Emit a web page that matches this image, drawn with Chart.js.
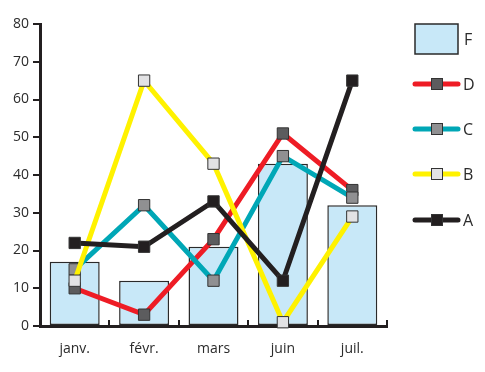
<!DOCTYPE html>
<html>
<head>
<meta charset="utf-8">
<script src="https://cdn.jsdelivr.net/npm/chart.js@4/dist/chart.umd.min.js"></script>
<style>
  html, body { margin: 0; padding: 0; background: #fff; }
  #wrap { width: 485px; height: 372px; }
</style>
</head>
<body>
<div id="wrap"><canvas id="c" width="485" height="372"></canvas></div>
<script>
// Months on the category axis
const months = ['janv.', 'févr.', 'mars', 'juin', 'juil.'];

// Series values
const seriesF = [17, 12, 21, 43, 32];
const seriesD = [10, 3, 23, 51, 36];
const seriesC = [15, 32, 12, 45, 34];
const seriesB = [12, 65, 43, 1, 29];
const seriesA = [22, 21, 33, 12, 65];

// Value axis
const yMin = 0;
const yMax = 80;
const yStep = 10;

const textColor = '#2b2b2b';
const axisColor = '#231f20';

function lineSeries(label, data, color, markerFill, order) {
  return {
    type: 'line',
    label: label,
    data: data,
    borderColor: color,
    borderWidth: 5,
    tension: 0,
    fill: false,
    pointStyle: 'rect',
    pointRadius: 8,
    pointHoverRadius: 8,
    pointBackgroundColor: markerFill,
    pointBorderColor: '#333333',
    pointBorderWidth: 1,
    clip: false,
    order: order
  };
}

const datasets = [
  {
    type: 'bar',
    label: 'F',
    data: seriesF,
    backgroundColor: '#c8e8f8',
    borderColor: '#2a2a2a',
    borderWidth: 1.5,
    borderSkipped: false,
    categoryPercentage: 1,
    barPercentage: 0.72,
    order: 5
  },
  lineSeries('D', seriesD, '#ee1c25', '#5c5c5e', 4),
  lineSeries('C', seriesC, '#00a7b6', '#909092', 3),
  lineSeries('B', seriesB, '#fff200', '#e2e2e4', 2),
  lineSeries('A', seriesA, '#231f20', '#231f20', 1)
];

// Small upward ticks on the category axis, at the boundaries between months
const categoryTicks = {
  id: 'categoryTicks',
  afterDatasetsDraw(chart) {
    const ctx = chart.ctx;
    const area = chart.chartArea;
    const n = months.length;
    const w = (area.right - area.left) / n;
    ctx.save();
    ctx.strokeStyle = axisColor;
    ctx.lineWidth = 2;
    for (let i = 1; i <= n; i++) {
      const px = Math.round(area.left + w * i);
      ctx.beginPath();
      ctx.moveTo(px, area.bottom);
      ctx.lineTo(px, area.bottom - 6);
      ctx.stroke();
    }
    ctx.restore();
  }
};

// Legend column on the right, listed F, D, C, B, A
const sideLegend = {
  id: 'sideLegend',
  afterDraw(chart) {
    const ctx = chart.ctx;
    const ds = chart.data.datasets;
    ctx.save();
    ctx.font = '16px "Open Sans", "Noto Sans", sans-serif';
    ctx.textBaseline = 'middle';
    ctx.textAlign = 'left';

    // bar entry
    const bar = ds[0];
    ctx.fillStyle = bar.backgroundColor;
    ctx.fillRect(415, 24, 43, 30);
    ctx.strokeStyle = bar.borderColor;
    ctx.lineWidth = 1.5;
    ctx.strokeRect(415, 24, 43, 30);
    ctx.fillStyle = textColor;
    ctx.fillText(bar.label, 464, 40);

    // line entries
    const rows = [84, 129, 174, 220];
    for (let i = 1; i < ds.length; i++) {
      const d = ds[i];
      const y = rows[i - 1];
      ctx.strokeStyle = d.borderColor;
      ctx.lineWidth = 5;
      ctx.lineCap = 'round';
      ctx.beginPath();
      ctx.moveTo(415, y);
      ctx.lineTo(458, y);
      ctx.stroke();
      const s = 11;
      ctx.fillStyle = d.pointBackgroundColor;
      ctx.fillRect(437 - s / 2, y - s / 2, s, s);
      ctx.strokeStyle = d.pointBorderColor;
      ctx.lineWidth = 1;
      ctx.strokeRect(437 - s / 2, y - s / 2, s, s);
      ctx.fillStyle = textColor;
      ctx.fillText(d.label, 463, y + 1);
    }
    ctx.restore();
  }
};

new Chart(document.getElementById('c'), {
  data: { labels: months, datasets: datasets },
  options: {
    responsive: false,
    animation: false,
    devicePixelRatio: 1,
    layout: { padding: { top: 24, right: 98, bottom: 0, left: 0 } },
    plugins: {
      legend: { display: false },
      tooltip: { enabled: false }
    },
    scales: {
      x: {
        offset: true,
        grid: { display: false, drawTicks: false },
        border: { display: true, color: axisColor, width: 3 },
        ticks: {
          color: textColor,
          padding: 15,
          font: { family: '"Open Sans", "Noto Sans", sans-serif', size: 14 }
        },
        afterFit(scale) { scale.height = 46; }
      },
      y: {
        min: yMin,
        max: yMax,
        grid: {
          drawOnChartArea: false,
          drawTicks: true,
          tickLength: 7,
          color: axisColor,
          lineWidth: 2
        },
        border: { display: true, color: axisColor, width: 3 },
        ticks: {
          stepSize: yStep,
          color: textColor,
          padding: 4,
          font: { family: '"Open Sans", "Noto Sans", sans-serif', size: 14 }
        },
        afterFit(scale) { scale.width = 40; }
      }
    }
  },
  plugins: [categoryTicks, sideLegend]
});
</script>
</body>
</html>
